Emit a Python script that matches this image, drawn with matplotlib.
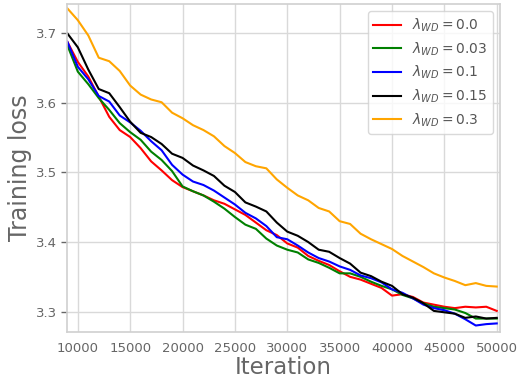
import matplotlib
matplotlib.use("Agg")
import matplotlib.pyplot as plt
import numpy as np

iters = list(range(9000, 50001, 1000))

loss_00 = [3.688, 3.659, 3.638, 3.609, 3.580, 3.561, 3.551, 3.535, 3.516, 3.503,
           3.489, 3.479, 3.473, 3.467, 3.460, 3.455, 3.447, 3.439, 3.428, 3.417,
           3.410, 3.398, 3.392, 3.380, 3.373, 3.367, 3.358, 3.350, 3.346, 3.340,
           3.334, 3.323, 3.325, 3.321, 3.313, 3.310, 3.307, 3.305, 3.307, 3.306,
           3.307, 3.301]
loss_003 = [3.683, 3.645, 3.627, 3.607, 3.590, 3.571, 3.558, 3.547, 3.530, 3.518,
            3.502, 3.480, 3.473, 3.467, 3.458, 3.448, 3.436, 3.425, 3.419, 3.405,
            3.395, 3.389, 3.385, 3.375, 3.370, 3.363, 3.355, 3.355, 3.350, 3.343,
            3.337, 3.332, 3.324, 3.319, 3.312, 3.307, 3.305, 3.303, 3.298, 3.290,
            3.290, 3.290]
loss_01 = [3.688, 3.652, 3.634, 3.610, 3.602, 3.582, 3.572, 3.560, 3.545, 3.532,
           3.511, 3.497, 3.487, 3.482, 3.474, 3.464, 3.454, 3.442, 3.434, 3.423,
           3.407, 3.404, 3.395, 3.385, 3.377, 3.372, 3.365, 3.360, 3.352, 3.348,
           3.342, 3.332, 3.327, 3.319, 3.310, 3.305, 3.302, 3.297, 3.289, 3.280,
           3.282, 3.283]
loss_015 = [3.700, 3.680, 3.648, 3.620, 3.614, 3.594, 3.573, 3.557, 3.551, 3.541,
            3.527, 3.521, 3.510, 3.503, 3.495, 3.481, 3.472, 3.457, 3.451, 3.444,
            3.428, 3.415, 3.409, 3.400, 3.389, 3.386, 3.377, 3.369, 3.356, 3.351,
            3.343, 3.337, 3.325, 3.320, 3.312, 3.301, 3.299, 3.297, 3.291, 3.293,
            3.290, 3.291]
loss_03 = [3.736, 3.719, 3.697, 3.665, 3.660, 3.646, 3.625, 3.612, 3.605, 3.601,
           3.586, 3.578, 3.568, 3.561, 3.552, 3.538, 3.528, 3.515, 3.509, 3.506,
           3.490, 3.478, 3.467, 3.460, 3.449, 3.444, 3.430, 3.426, 3.412, 3.404,
           3.397, 3.390, 3.380, 3.372, 3.364, 3.355, 3.349, 3.344, 3.338, 3.341,
           3.337, 3.336]

series = [
    (loss_00, "red", r"$\lambda_{WD}=0.0$"),
    (loss_003, "green", r"$\lambda_{WD}=0.03$"),
    (loss_01, "blue", r"$\lambda_{WD}=0.1$"),
    (loss_015, "black", r"$\lambda_{WD}=0.15$"),
    (loss_03, "orange", r"$\lambda_{WD}=0.3$"),
]

fig = plt.figure(figsize=(5.18, 3.8), dpi=100)
ax = fig.add_axes([0.129, 0.126, 0.836, 0.863])

for vals, col, lab in series:
    ax.plot(iters, vals, color=col, lw=1.5, label=lab)

ax.set_xlim(8950, 50300)
ax.set_ylim(3.2705, 3.742)
ax.set_xticks([10000, 15000, 20000, 25000, 30000, 35000, 40000, 45000, 50000])
ax.set_yticks([3.3, 3.4, 3.5, 3.6, 3.7])

ax.grid(True, color="#d9d9d9", lw=1.0)
ax.set_axisbelow(True)
for s in ax.spines.values():
    s.set_color("#d0d0d0")
    s.set_linewidth(1.2)

ax.tick_params(axis="both", colors="#555555", labelsize=9.5, labelcolor="#666666")
ax.tick_params(axis="x", length=0, pad=7)
ax.tick_params(axis="y", length=4, width=1, color="#666666", pad=3)

ax.set_xlabel("Iteration", fontsize=16.5, color="#666666", labelpad=1)
ax.set_ylabel("Training loss", fontsize=17, color="#666666", labelpad=3)

leg = ax.legend(loc="upper right", fontsize=10, frameon=True, handlelength=2.0,
                borderaxespad=0.5, labelspacing=0.45)
for t in leg.get_texts():
    t.set_color("#555555")
leg.get_frame().set_edgecolor("#d0d0d0")

fig.savefig("out.png", dpi=100)
